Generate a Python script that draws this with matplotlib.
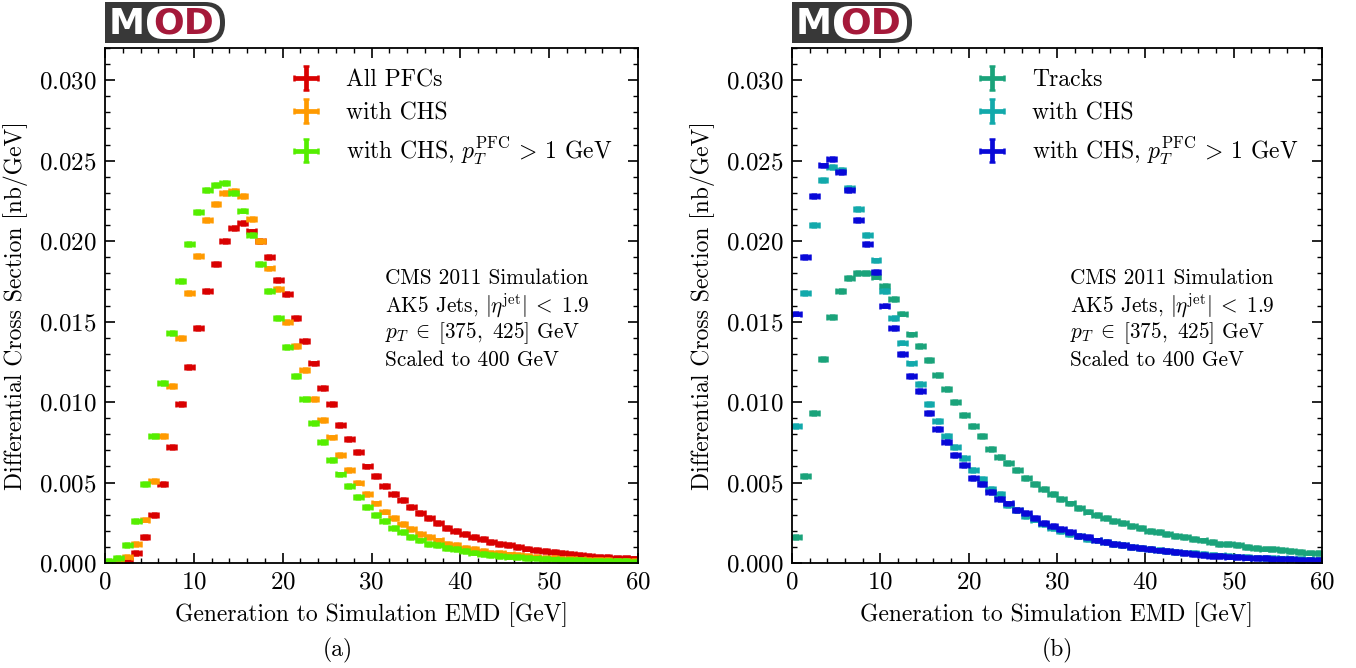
import matplotlib
matplotlib.use("Agg")
import matplotlib.pyplot as plt
import numpy as np
from matplotlib.patches import FancyBboxPatch, Rectangle
from matplotlib.ticker import MultipleLocator

# bin edges 0..60 GeV, width 1
bin_centers = np.arange(60) + 0.5
bin_halfwidth = 0.5
stat_err = 0.00012

# panel (a)
all_pfcs = [
    0.00002, 0.00005, 0.0002, 0.0006, 0.0016, 0.0030, 0.0049, 0.0072, 0.0099, 0.0122,
    0.0146, 0.0169, 0.0186, 0.0200, 0.0208, 0.0211, 0.0206, 0.0200, 0.0190, 0.0176,
    0.0167, 0.0152, 0.0138, 0.0124, 0.0109, 0.0099, 0.0086, 0.0077, 0.0069, 0.0060,
    0.0054, 0.0048, 0.0043, 0.0039, 0.0035, 0.0031, 0.0028, 0.0025, 0.0022, 0.0020,
    0.0018, 0.0016, 0.0015, 0.0013, 0.0012, 0.0011, 0.0010, 0.0009, 0.0008, 0.00075,
    0.0007, 0.0006, 0.00055, 0.0005, 0.00045, 0.0004, 0.00038, 0.00034, 0.0003, 0.00028,
]
pfcs_chs = [
    0.00002, 0.0001, 0.0004, 0.0012, 0.0027, 0.0051, 0.0079, 0.0110, 0.0140, 0.0168,
    0.0191, 0.0213, 0.0223, 0.0230, 0.0231, 0.0228, 0.0214, 0.0200, 0.0183, 0.0170,
    0.0150, 0.0135, 0.0120, 0.0102, 0.0089, 0.0078, 0.0067, 0.0058, 0.0050, 0.0043,
    0.0037, 0.0032, 0.0028, 0.0024, 0.0021, 0.0018, 0.0016, 0.0014, 0.0012, 0.0011,
    0.00095, 0.00085, 0.00075, 0.00065, 0.0006, 0.00053, 0.00048, 0.00042, 0.00038, 0.00034,
    0.0003, 0.00027, 0.00025, 0.00022, 0.0002, 0.00018, 0.00016, 0.00015, 0.00013, 0.00012,
]
pfcs_chs_pt1 = [
    0.00012, 0.0003, 0.0011, 0.0026, 0.0049, 0.0079, 0.0112, 0.0143, 0.0175, 0.0198,
    0.0218, 0.0232, 0.0235, 0.0236, 0.0230, 0.0219, 0.0204, 0.0186, 0.0169, 0.0152,
    0.0134, 0.0116, 0.0102, 0.0087, 0.0075, 0.0064, 0.0055, 0.0048, 0.0041, 0.0035,
    0.0030, 0.0026, 0.0022, 0.0019, 0.0016, 0.0014, 0.0012, 0.0011, 0.00095, 0.00085,
    0.00075, 0.00065, 0.00058, 0.0005, 0.00045, 0.0004, 0.00036, 0.00032, 0.00028, 0.00025,
    0.00022, 0.0002, 0.00018, 0.00016, 0.00014, 0.00013, 0.00012, 0.00011, 0.0001, 0.00009,
]

# panel (b)
tracks = [
    0.0016, 0.0054, 0.0093, 0.0127, 0.0153, 0.0169, 0.0177, 0.0180, 0.0180, 0.0178,
    0.0172, 0.0164, 0.0155, 0.0142, 0.0135, 0.0126, 0.0117, 0.0108, 0.0100, 0.0092,
    0.0085, 0.0079, 0.0071, 0.0066, 0.0062, 0.0058, 0.0053, 0.0049, 0.0046, 0.0043,
    0.0040, 0.0037, 0.0034, 0.0032, 0.0030, 0.0028, 0.0026, 0.0025, 0.0023, 0.0022,
    0.0020, 0.0019, 0.0018, 0.0017, 0.0016, 0.0015, 0.0014, 0.0013, 0.0012, 0.0012,
    0.0011, 0.0010, 0.00095, 0.0009, 0.00085, 0.0008, 0.00075, 0.0007, 0.00065, 0.0006,
]
tracks_chs = [
    0.0085, 0.0168, 0.0210, 0.0238, 0.0246, 0.0244, 0.0233, 0.0220, 0.0204, 0.0188,
    0.0169, 0.0152, 0.0137, 0.0124, 0.0111, 0.0099, 0.0088, 0.0079, 0.0072, 0.0065,
    0.0058, 0.0052, 0.0046, 0.0043, 0.0036, 0.0033, 0.0029, 0.0027, 0.0024, 0.0022,
    0.0020, 0.0018, 0.0017, 0.0015, 0.0014, 0.0013, 0.0012, 0.0011, 0.0010, 0.00095,
    0.00088, 0.0008, 0.00075, 0.0007, 0.00065, 0.0006, 0.00055, 0.0005, 0.00047, 0.00044,
    0.0004, 0.00037, 0.00034, 0.00032, 0.0003, 0.00028, 0.00026, 0.00024, 0.00022, 0.0002,
]
tracks_chs_pt1 = [
    0.0155, 0.0190, 0.0228, 0.0247, 0.0251, 0.0243, 0.0232, 0.0213, 0.0198, 0.0181,
    0.0160, 0.0146, 0.0130, 0.0116, 0.0107, 0.0093, 0.0083, 0.0075, 0.0067, 0.0061,
    0.0053, 0.0049, 0.0044, 0.0040, 0.0037, 0.0033, 0.0031, 0.0028, 0.0025, 0.0023,
    0.0021, 0.0019, 0.0017, 0.0016, 0.0014, 0.0013, 0.0012, 0.0011, 0.0010, 0.00093,
    0.00085, 0.00078, 0.00072, 0.00066, 0.0006, 0.00055, 0.0005, 0.00046, 0.00043, 0.0004,
    0.00037, 0.00034, 0.00031, 0.00029, 0.00027, 0.00025, 0.00023, 0.00021, 0.0002, 0.00018,
]

labels_a = ["All PFCs", "with CHS", r"with CHS, $p_T^{\mathrm{PFC}}\,>\,1$ GeV"]
labels_b = ["Tracks", "with CHS", r"with CHS, $p_T^{\mathrm{PFC}}\,>\,1$ GeV"]
colors_a = ["#d90000", "#ff9a00", "#55ee00"]
colors_b = ["#1aa37a", "#12a9ab", "#0808d8"]
info_lines = [
    "CMS 2011 Simulation",
    r"AK5 Jets, $|\eta^{\mathrm{jet}}|\;<\;1.9$",
    r"$p_T\;\in\;[375,\ 425]$ GeV",
    "Scaled to 400 GeV",
]

plt.rcParams.update(
    {
        "font.family": "serif",
        "font.serif": ["cmr10"],
        "mathtext.fontset": "cm",
        "axes.formatter.use_mathtext": True,
        "font.size": 17,
        "xtick.labelsize": 18,
        "ytick.labelsize": 18,
        "axes.linewidth": 1.3,
        "xtick.direction": "in",
        "ytick.direction": "in",
        "xtick.top": True,
        "ytick.right": True,
        "xtick.major.size": 7,
        "ytick.major.size": 7,
        "xtick.minor.size": 3.5,
        "ytick.minor.size": 3.5,
        "xtick.major.width": 1.2,
        "ytick.major.width": 1.2,
        "xtick.minor.width": 1.0,
        "ytick.minor.width": 1.0,
        "xtick.major.pad": 6,
        "ytick.major.pad": 6,
    }
)

fig = plt.figure(figsize=(13.56, 6.68), dpi=100)
ax_a = fig.add_axes([105 / 1356, 1 - 563 / 668, 533 / 1356, 515 / 668])
ax_b = fig.add_axes([792 / 1356, 1 - 563 / 668, 530 / 1356, 515 / 668])


def draw_panel(ax, series, labels, colors):
    for values, label, color in zip(series, labels, colors):
        ax.errorbar(
            bin_centers, values, xerr=bin_halfwidth, yerr=stat_err, fmt="none",
            ecolor=color, elinewidth=3.4, capsize=2.4, capthick=1.8, label=label,
        )
    ax.set_xlim(0, 60)
    ax.set_ylim(0, 0.032)
    ax.xaxis.set_major_locator(MultipleLocator(10))
    ax.xaxis.set_minor_locator(MultipleLocator(2))
    ax.yaxis.set_major_locator(MultipleLocator(0.005))
    ax.yaxis.set_minor_locator(MultipleLocator(0.001))
    ax.set_xlabel("Generation to Simulation EMD [GeV]", labelpad=6)
    ax.set_ylabel("Differential Cross Section [nb/GeV]", labelpad=8)
    ax.legend(loc="upper left", bbox_to_anchor=(0.32, 1.0), frameon=False,
              fontsize=17, handlelength=0.8, handletextpad=1.3, labelspacing=0.45)
    for i, line in enumerate(info_lines):
        ax.text(0.525, 0.553 - 0.053 * i, line, transform=ax.transAxes,
                fontsize=15.3, va="center", ha="left")


draw_panel(ax_a, [all_pfcs, pfcs_chs, pfcs_chs_pt1], labels_a, colors_a)
draw_panel(ax_b, [tracks, tracks_chs, tracks_chs_pt1], labels_b, colors_b)

fig.text(338 / 1356, 1 - 650 / 668, "(a)", ha="center", va="center", fontsize=17)
fig.text(1057 / 1356, 1 - 650 / 668, "(b)", ha="center", va="center", fontsize=17)

# MOD logos drawn in pixel coordinates
lax = fig.add_axes([0, 0, 1, 1], zorder=10)
lax.set_xlim(0, 1356)
lax.set_ylim(668, 0)
lax.axis("off")
for x0 in (105, 792):
    lax.add_patch(Rectangle((x0, 2), 70, 41, color="#383838", lw=0))
    lax.add_patch(FancyBboxPatch((x0 + 28, 2), 92, 41, boxstyle="round,pad=0,rounding_size=20",
                                 color="#383838", lw=0))
    lax.add_patch(FancyBboxPatch((x0 + 42, 6), 73, 33, boxstyle="round,pad=0,rounding_size=16",
                                 color="white", lw=0))
    lax.text(x0 + 22, 24, "M", color="white", fontsize=26, fontweight="bold",
             family="DejaVu Sans", ha="center", va="center")
    lax.text(x0 + 79, 24, "OD", color="#a5193a", fontsize=26, fontweight="bold",
             family="DejaVu Sans", ha="center", va="center")

fig.savefig("out.png", dpi=100)
